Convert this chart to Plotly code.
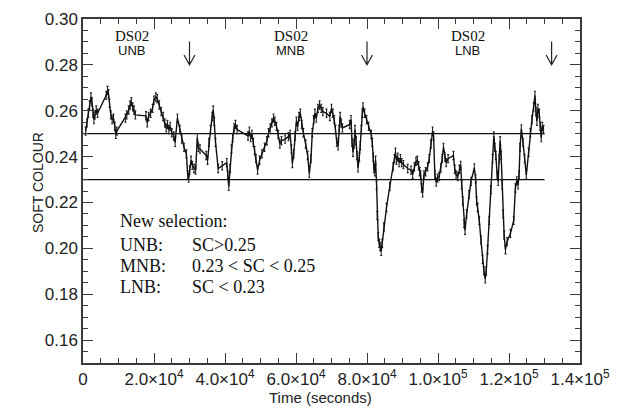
import plotly.graph_objects as go

# ---- data (time in seconds, soft colour) ----
time_s = [747, 1120, 1493, 1867, 2240, 2520, 2800, 3080, 3360, 3733, 4107, 6533, 6907, 7187, 7467, 7840,
          8213, 8587, 8960, 9240, 9520, 11947, 12320, 12880, 13253, 13627, 14000, 14373, 14747, 17733,
          18107, 18480, 19040, 19600, 19973, 20533, 20907, 21467, 22027, 22587, 23053, 23427, 23800, 24173,
          24547, 25013, 25573, 25947, 26600, 27253, 27813, 28467, 29120, 29493, 29773, 30053, 30427, 30800,
          31267, 31733, 32200, 32480, 32947, 34720, 35093, 35467, 35933, 36400, 36680, 36960, 37333, 38080,
          39200, 40507, 40787, 41067, 41440, 41813, 42187, 42560, 42933, 43400, 46480, 46853, 47227, 47600,
          47973, 48347, 48720, 49187, 49747, 50400, 51147, 51800, 52267, 52733, 53200, 53667, 54040, 54507,
          54973, 55440, 55907, 56933, 57867, 58333, 58707, 58987, 59360, 59733, 60107, 60480, 60853, 61227,
          61600, 62067, 62720, 63280, 63747, 64213, 64587, 64960, 65333, 65707, 66173, 66640, 67107, 67573,
          68600, 69533, 70000, 70373, 70747, 71120, 71493, 71867, 72147, 72427, 72707, 73080, 75133, 75507,
          75787, 76067, 76347, 76627, 76907, 77187, 77467, 77840, 78120, 78400, 78680, 78867, 79333, 79893,
          80453, 81200, 81480, 81760, 81947, 82227, 82413, 82693, 82880, 83160, 83440, 83720, 84000, 84280,
          84747, 85493, 86427, 87360, 87733, 88013, 88293, 88667, 89040, 89413, 89787, 90253, 91467, 92400,
          92867, 93333, 93800, 94173, 94547, 94827, 95107, 95387, 95667, 96040, 96507, 97067, 97533, 98000,
          98467, 98747, 99120, 99493, 99867, 100333, 100800, 101173, 101547, 101920, 102293, 102853, 104347,
          104720, 105093, 105560, 106027, 106400, 106680, 106960, 107333, 107613, 108080, 108733, 109293,
          110227, 110600, 110880, 111160, 111627, 112093, 112560, 112933, 113307, 113587, 113960, 114427,
          114893, 115360, 115733, 116013, 116293, 116667, 116947, 117227, 117507, 117787, 118067, 118347,
          118627, 119000, 119467, 120400, 121333, 121800, 122173, 122547, 122827, 123107, 123480, 123947,
          124413, 124880, 125533, 126000, 126467, 126933, 127307, 127587, 127867, 128147, 128520, 128800,
          129080, 129360, 129733]
soft_colour = [0.2511, 0.2547, 0.2589, 0.2625, 0.2660, 0.2639, 0.2589, 0.2561, 0.2582, 0.2603, 0.2589,
               0.2667, 0.2688, 0.2674, 0.2632, 0.2582, 0.2561, 0.2568, 0.2532, 0.2497, 0.2511, 0.2568,
               0.2582, 0.2603, 0.2625, 0.2639, 0.2617, 0.2603, 0.2582, 0.2578, 0.2547, 0.2575, 0.2589,
               0.2610, 0.2646, 0.2660, 0.2653, 0.2625, 0.2596, 0.2575, 0.2547, 0.2525, 0.2540, 0.2518,
               0.2532, 0.2504, 0.2490, 0.2462, 0.2568, 0.2518, 0.2476, 0.2440, 0.2412, 0.2320, 0.2306,
               0.2341, 0.2384, 0.2362, 0.2348, 0.2341, 0.2483, 0.2440, 0.2433, 0.2405, 0.2384, 0.2462,
               0.2518, 0.2575, 0.2603, 0.2554, 0.2462, 0.2348, 0.2360, 0.2374, 0.2320, 0.2270, 0.2348,
               0.2433, 0.2483, 0.2525, 0.2540, 0.2518, 0.2490, 0.2511, 0.2483, 0.2497, 0.2462, 0.2426,
               0.2391, 0.2341, 0.2384, 0.2412, 0.2440, 0.2469, 0.2504, 0.2525, 0.2547, 0.2568, 0.2554,
               0.2532, 0.2497, 0.2455, 0.2469, 0.2476, 0.2487, 0.2497, 0.2433, 0.2370, 0.2412, 0.2490,
               0.2554, 0.2532, 0.2575, 0.2589, 0.2540, 0.2504, 0.2455, 0.2405, 0.2327, 0.2391, 0.2504,
               0.2561, 0.2589, 0.2568, 0.2610, 0.2625, 0.2610, 0.2596, 0.2589, 0.2575, 0.2610, 0.2589,
               0.2561, 0.2518, 0.2462, 0.2447, 0.2518, 0.2575, 0.2547, 0.2525, 0.2540, 0.2561, 0.2462,
               0.2419, 0.2455, 0.2518, 0.2469, 0.2405, 0.2351, 0.2398, 0.2447, 0.2518, 0.2589, 0.2617,
               0.2589, 0.2561, 0.2532, 0.2497, 0.2462, 0.2398, 0.2348, 0.2334, 0.2384, 0.2277, 0.2143,
               0.2051, 0.2022, 0.2008, 0.1987, 0.2022, 0.2093, 0.2178, 0.2270, 0.2355, 0.2391, 0.2419,
               0.2384, 0.2398, 0.2374, 0.2391, 0.2374, 0.2365, 0.2348, 0.2341, 0.2323, 0.2355, 0.2379,
               0.2384, 0.2360, 0.2334, 0.2320, 0.2263, 0.2242, 0.2320, 0.2334, 0.2355, 0.2391, 0.2455,
               0.2511, 0.2490, 0.2320, 0.2289, 0.2306, 0.2313, 0.2351, 0.2391, 0.2440, 0.2398, 0.2374,
               0.2391, 0.2405, 0.2345, 0.2320, 0.2313, 0.2345, 0.2362, 0.2277, 0.2207, 0.2108, 0.2079,
               0.2150, 0.2235, 0.2292, 0.2351, 0.2303, 0.2207, 0.2178, 0.2122, 0.2037, 0.1952, 0.1902,
               0.1867, 0.1902, 0.1994, 0.2122, 0.2256, 0.2391, 0.2490, 0.2440, 0.2405, 0.2320, 0.2292,
               0.2391, 0.2469, 0.2405, 0.2277, 0.2150, 0.2058, 0.1994, 0.2029, 0.2065, 0.2122, 0.2263,
               0.2294, 0.2277, 0.2320, 0.2440, 0.2521, 0.2462, 0.2391, 0.2320, 0.2419, 0.2504, 0.2561,
               0.2617, 0.2667, 0.2596, 0.2554, 0.2610, 0.2589, 0.2532, 0.2483, 0.2532, 0.2518]
sc_error = 0.0018

thresholds = [0.25, 0.23]
threshold_span = [0, 130000]

region_labels = ["UNB", "MNB", "LNB"]
region_label_times = [13720, 58520, 108360]
boundary_times = [30000, 80000, 132000]

x_tickvals = [0, 20000, 40000, 60000, 80000, 100000, 120000, 140000]
x_ticktext = ["0", "2.0×10<sup>4</sup>", "4.0×10<sup>4</sup>", "6.0×10<sup>4</sup>", "8.0×10<sup>4</sup>",
              "1.0×10<sup>5</sup>", "1.2×10<sup>5</sup>", "1.4×10<sup>5</sup>"]

selection_title = "New selection:"
selection_names = ["UNB:", "MNB:", "LNB:"]
selection_rules = ["SC&gt;0.25", "0.23 &lt; SC &lt; 0.25", "SC &lt; 0.23"]

# ---- layout constants (pixels) ----
W, H = 620, 412
L, R, T, B = 83, 37, 10, 49
PW, PH = W - L - R, H - T - B


def px(xp):
    return (xp - L) / PW


def py(yp):
    return (H - B - yp) / PH


SANS = "Liberation Sans, Arial, sans-serif"
SERIF = "Liberation Serif, Times New Roman, serif"
AX = "#3a3a3a"

fig = go.Figure()

for th in thresholds:
    fig.add_trace(go.Scatter(x=threshold_span, y=[th, th], mode="lines",
                             line=dict(color="#111", width=1.3), hoverinfo="skip", showlegend=False))

fig.add_trace(go.Scatter(
    x=time_s, y=soft_colour, mode="lines",
    line=dict(color="#111", width=1.4),
    error_y=dict(type="constant", value=sc_error, color="#222", thickness=1.1, width=1),
    showlegend=False))

annotations = []
for name, t in zip(region_labels, region_label_times):
    annotations.append(dict(x=t, xref="x", y=py(27), yref="paper", text="DS02", showarrow=False,
                            font=dict(family=SERIF, size=15, color="#111"), xanchor="center", yanchor="middle"))
    annotations.append(dict(x=t, xref="x", y=py(42), yref="paper", text=name, showarrow=False,
                            font=dict(family=SANS, size=13, color="#111"), xanchor="center", yanchor="middle"))

shapes = []
half_w = 5.5 * 140000 / PW
for t in boundary_times:
    path = (f"M {t} {py(33)} L {t} {py(57)} "
            f"M {t - half_w} {py(47)} L {t} {py(57)} L {t + half_w} {py(47)}")
    shapes.append(dict(type="path", xref="x", yref="paper", path=path,
                       line=dict(color="#222", width=1.2)))

annotations.append(dict(x=px(118), y=py(217), xref="paper", yref="paper", text=selection_title,
                        showarrow=False, xanchor="left", yanchor="middle",
                        font=dict(family=SERIF, size=18, color="#111")))
for i, (nm, rule) in enumerate(zip(selection_names, selection_rules)):
    yy = py(242 + i * 21.5)
    annotations.append(dict(x=px(118), y=yy, xref="paper", yref="paper", text=nm, showarrow=False,
                            xanchor="left", yanchor="middle", font=dict(family=SERIF, size=18, color="#111")))
    annotations.append(dict(x=px(191), y=yy, xref="paper", yref="paper", text=rule, showarrow=False,
                            xanchor="left", yanchor="middle", font=dict(family=SERIF, size=18, color="#111")))

annotations.append(dict(x=px(37), y=py(178), xref="paper", yref="paper", text="SOFT COLOUR",
                        textangle=-90, showarrow=False, xanchor="center", yanchor="middle",
                        font=dict(family=SANS, size=14, color="#222")))
annotations.append(dict(x=px(322), y=py(398), xref="paper", yref="paper", text="Time (seconds)",
                        showarrow=False, xanchor="center", yanchor="middle",
                        font=dict(family=SANS, size=15, color="#222")))

fig.update_layout(
    width=W, height=H, margin=dict(l=L, r=R, t=T, b=B),
    paper_bgcolor="white", plot_bgcolor="white",
    annotations=annotations, shapes=shapes,
    xaxis=dict(range=[0, 140000], tickvals=x_tickvals, ticktext=x_ticktext,
               ticks="inside", ticklen=10, tickwidth=1.2, tickcolor=AX,
               mirror="allticks", showline=True, linecolor=AX, linewidth=1.5,
               showgrid=False, zeroline=False,
               minor=dict(dtick=5000, tick0=0, ticks="inside", ticklen=5, tickcolor=AX, tickwidth=1.2),
               tickfont=dict(family=SANS, size=17, color="#222")),
    yaxis=dict(range=[0.15, 0.30], dtick=0.02, tick0=0, tickformat=".2f",
               ticks="inside", ticklen=10, tickwidth=1.2, tickcolor=AX,
               mirror="allticks", showline=True, linecolor=AX, linewidth=1.5,
               showgrid=False, zeroline=False,
               minor=dict(dtick=0.005, tick0=0, ticks="inside", ticklen=5, tickcolor=AX, tickwidth=1.2),
               tickfont=dict(family=SANS, size=17, color="#222")),
)

fig.write_html("out.html")
